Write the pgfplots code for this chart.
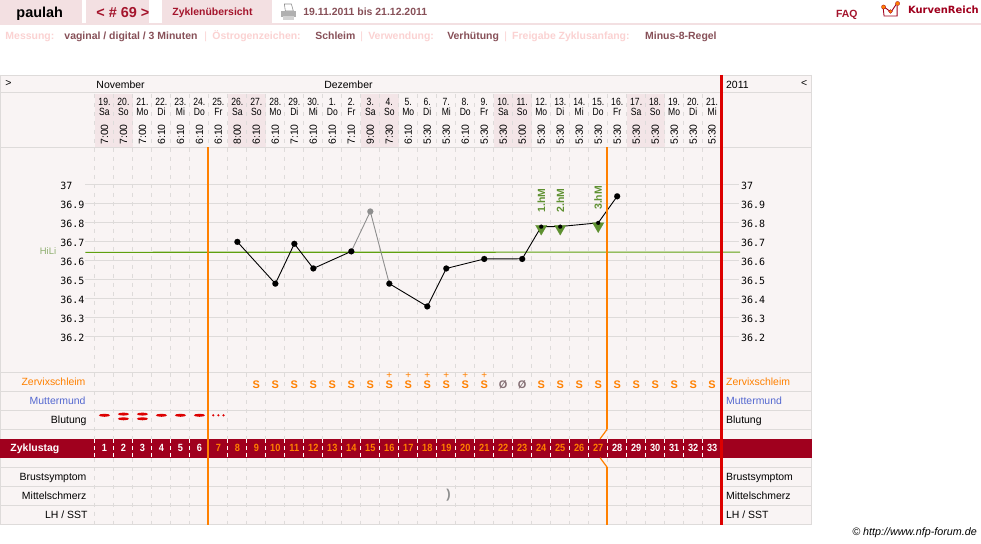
\documentclass[border=0pt]{standalone}
\usepackage{pgfplots}
\usepackage{pgfplotstable}
\usepackage{fontspec}
\setmainfont{Liberation Sans}
\newfontfamily\logofont{DejaVu Sans}
\newfontfamily\tickfont{DejaVu Sans Mono}
\pgfplotsset{compat=1.18}
\definecolor{bgc}{HTML}{F9F4F4}
\definecolor{wkd}{HTML}{F3E5E7}
\definecolor{tabc}{HTML}{F3E0E2}
\definecolor{rulec}{HTML}{DEDBDA}
\definecolor{band}{HTML}{A0001E}
\definecolor{redl}{HTML}{DD0000}
\definecolor{orange2}{HTML}{FF8000}
\definecolor{pinktxt}{HTML}{FBD2D2}
\definecolor{valtxt}{HTML}{875058}
\definecolor{tabred}{HTML}{A4142C}
\definecolor{bluetxt}{HTML}{5468D0}
\definecolor{greenm}{HTML}{5E9030}
\definecolor{hiliC}{HTML}{5FA010}
\definecolor{hilit}{HTML}{8FAF70}
\definecolor{greyc}{HTML}{8E8E8E}
\definecolor{slashc}{HTML}{857075}
\pgfdeclareplotmark{bleed}{\pgfpathellipse{\pgfpointorigin}{\pgfqpoint{5.6bp}{0bp}}{\pgfqpoint{0bp}{1.5bp}}\pgfusepathqfill}
\pgfplotstableread{
day date wd time
1 19. Sa 7:00
2 20. So 7:00
3 21. Mo 7:00
4 22. Di 6:10
5 23. Mi 6:10
6 24. Do 6:10
7 25. Fr 6:10
8 26. Sa 8:00
9 27. So 6:10
10 28. Mo 6:10
11 29. Di 7:10
12 30. Mi 6:10
13 1. Do 6:10
14 2. Fr 7:10
15 3. Sa 9:00
16 4. So 7:30
17 5. Mo 6:10
18 6. Di 5:30
19 7. Mi 5:30
20 8. Do 6:10
21 9. Fr 5:30
22 10. Sa 5:30
23 11. So 5:00
24 12. Mo 5:30
25 13. Di 5:30
26 14. Mi 5:30
27 15. Do 5:30
28 16. Fr 5:30
29 17. Sa 5:30
30 18. So 5:30
31 19. Mo 5:30
32 20. Di 5:30
33 21. Mi 5:30
}\hdr
\pgfplotsset{
  canvas/.style={scale only axis,width=981bp,height=544bp,axis lines=none,clip=false,
    at={(0bp,0bp)},anchor=south west},
  lbl/.style={only marks,mark=none,point meta=explicit symbolic,nodes near coords,
    nodes near coords align={center}},
}
\tikzset{t/.style={inner sep=0pt,outer sep=0pt,anchor=base west,font=\fontsize{10.5}{12}\selectfont},
  r/.style={inner sep=0pt,outer sep=0pt,anchor=base east,font=\fontsize{10.5}{12}\selectfont},
  b/.style={font=\fontsize{10.5}{12}\selectfont\bfseries}}
\begin{document}
\begin{tikzpicture}
% pixel canvas: frame, rules, header texts
\begin{axis}[canvas,xmin=0,xmax=981,ymin=0,ymax=544,y dir=reverse]
\fill[white] (axis cs:0,0) rectangle (axis cs:981,544);
\fill[tabc] (axis cs:0,0) rectangle (axis cs:82,23);
\fill[tabc] (axis cs:86,0) rectangle (axis cs:149,23);
\fill[tabc] (axis cs:162,0) rectangle (axis cs:272,23);
\fill[tabc] (axis cs:0,23.2) rectangle (axis cs:981,25);
\node[t,font=\fontsize{14.5}{16}\selectfont\bfseries] at (axis cs:16,18) {paulah};
\node[t,font=\fontsize{14.5}{16}\selectfont\bfseries,text=tabred] at (axis cs:96,18) {<~\#~69~>};
\node[t,b,text=tabred] at (axis cs:172,16) {Zyklenübersicht};
\node[t,b,text=valtxt] at (axis cs:303,16) {19.11.2011 bis 21.12.2011};
\node[t,b,text=tabred] at (axis cs:836,18) {FAQ};
\node[t,text=band,font=\logofont\fontsize{10}{11}\selectfont\bfseries] at (axis cs:908,14) {KurvenReich};
% printer icon
\fill[white,draw=greyc,line width=.6bp] (axis cs:284,4) -- (axis cs:291,4) -- (axis cs:293,11) -- (axis cs:285,11) -- cycle;
\fill[greyc!70] (axis cs:281,11) rectangle (axis cs:296,17);
\fill[greyc!40] (axis cs:283,16) rectangle (axis cs:294,20);
% logo icon
\draw[band,line width=.9bp] (axis cs:883,7) -- (axis cs:884,16) -- (axis cs:897,16) -- (axis cs:897,6);
\draw[band,line width=.9bp] (axis cs:884,7) -- (axis cs:891,12) -- (axis cs:897,3);
\fill[orange2,draw=band,line width=.3bp] (axis cs:883.5,7) circle[radius=2.1bp];
\fill[orange2,draw=band,line width=.3bp] (axis cs:890.5,11.5) circle[radius=1.9bp];
\fill[orange2,draw=band,line width=.3bp] (axis cs:897.5,3.5) circle[radius=2.1bp];
% info line
\node[t,b,text=pinktxt] at (axis cs:5,40) {Messung:};
\node[t,b,text=valtxt] at (axis cs:64,40) {vaginal / digital / 3 Minuten};
\node[t,text=pinktxt] at (axis cs:204,40) {|};
\node[t,b,text=pinktxt] at (axis cs:212,40) {Östrogenzeichen:};
\node[t,b,text=valtxt] at (axis cs:315,40) {Schleim};
\node[t,text=pinktxt] at (axis cs:360,40) {|};
\node[t,b,text=pinktxt] at (axis cs:368,40) {Verwendung:};
\node[t,b,text=valtxt] at (axis cs:447,40) {Verhütung};
\node[t,text=pinktxt] at (axis cs:504,40) {|};
\node[t,b,text=pinktxt] at (axis cs:512,40) {Freigabe Zyklusanfang:};
\node[t,b,text=valtxt] at (axis cs:645,40) {Minus-8-Regel};
% frame
\fill[bgc] (axis cs:0,75) rectangle (axis cs:812,525);
% weekend shading
\pgfplotsinvokeforeach{94.5,227.5,360.5,493.5,626.5}{
  \fill[wkd] (axis cs:#1,94) rectangle (axis cs:#1+38,147);
}
% month row
\node[t] at (axis cs:96,89) {November};
\node[t] at (axis cs:324,89) {Dezember};
\node[t] at (axis cs:726,89) {2011};
\node[t] at (axis cs:5,86.5) {>};
\node[t] at (axis cs:801,86.5) {<};
% rules
\pgfplotsinvokeforeach{75.5,93,147.5,372.5,391.5,410.5,429.5,467.5,486.5,505.5,524.5}{
  \draw[rulec,line width=1bp] (axis cs:0,#1) -- (axis cs:812,#1);
}
\draw[rulec,line width=1bp] (axis cs:0.5,75) -- (axis cs:0.5,525);
\draw[rulec,line width=1bp] (axis cs:811.5,75) -- (axis cs:811.5,525);
% band
\fill[band] (axis cs:0,439) rectangle (axis cs:812,458);
% dashed day rules
\pgfplotsinvokeforeach{94.5,113.5,...,703.5}{
  \draw[rulec,line width=1bp,dash pattern=on 4bp off 5bp] (axis cs:#1,94) -- (axis cs:#1,439);
  \draw[white,line width=1bp,dash pattern=on 4bp off 3bp] (axis cs:#1,439) -- (axis cs:#1,458);
  \draw[rulec,line width=1bp,dash pattern=on 4bp off 5bp] (axis cs:#1,458) -- (axis cs:#1,524);
}
% row labels
\node[r,text=orange2] at (axis cs:85,386) {Zervixschleim};
\node[r,text=bluetxt] at (axis cs:85,405) {Muttermund};
\node[r] at (axis cs:86,424) {Blutung};
\node[t,b,text=white] at (axis cs:10,452) {Zyklustag};
\node[r] at (axis cs:86,481) {Brustsymptom};
\node[r] at (axis cs:86,500) {Mittelschmerz};
\node[r] at (axis cs:87,519) {LH / SST};
\node[t,text=orange2] at (axis cs:726,386) {Zervixschleim};
\node[t,text=bluetxt] at (axis cs:726,405) {Muttermund};
\node[t] at (axis cs:726,424) {Blutung};
\node[t] at (axis cs:726,481) {Brustsymptom};
\node[t] at (axis cs:726,500) {Mittelschmerz};
\node[t] at (axis cs:726,519) {LH / SST};
\node[anchor=base east,inner sep=0pt,font=\itshape\fontsize{10.8}{12}\selectfont] at (axis cs:977,536) {© http://www.nfp-forum.de};
\end{axis}
% temperature: right-hand scale
\begin{axis}[scale only axis,width=627bp,height=225bp,at={(94.5bp,172bp)},anchor=south west,
  xmin=0.5,xmax=33.5,ymin=36.0158,ymax=37.2,xtick=\empty,axis x line=none,axis y line*=right,
  axis line style={draw=none},ytick style={draw=none},
  ytick={36.2,36.3,...,37.01},
  yticklabel style={font=\tickfont\fontsize{10}{12}\selectfont,anchor=west,xshift=16bp,yshift=-1bp},
  /pgf/number format/assume math mode=true,/pgf/number format/fixed,/pgf/number format/precision=1]
\addplot[draw=none] coordinates {(1,36.5)};
\end{axis}
% temperature: curve, gridlines and left-hand scale
\begin{axis}[scale only axis,width=627bp,height=225bp,at={(94.5bp,172bp)},anchor=south west,
  xmin=0.5,xmax=33.5,ymin=36.0158,ymax=37.2,xtick=\empty,axis x line=none,axis y line*=left,
  axis line style={draw=none},ytick style={draw=none},clip=false,
  ytick={36.2,36.3,...,37.01},
  yticklabel style={font=\tickfont\fontsize{10}{12}\selectfont,anchor=west,xshift=-38bp,yshift=-1bp},
  /pgf/number format/assume math mode=true,/pgf/number format/fixed,/pgf/number format/precision=1]
\pgfplotsinvokeforeach{36.2,36.3,36.4,36.5,36.6,36.7,36.8,36.9,37}{
  \addplot[color=rulec,line width=.9bp] coordinates {(0,#1)(34.42,#1)};
}
\addplot[color=hiliC,line width=1.1bp] coordinates {(0,36.645)(34.47,36.646)};
\addplot[black,line width=.9bp] coordinates {(8,36.7)(10,36.48)(11,36.69)(12,36.56)(14,36.65)};
\addplot[greyc,line width=.9bp] coordinates {(14,36.65)(15,36.86)(16,36.48)};
\addplot[black,line width=.9bp] coordinates {(16,36.48)(18,36.36)(19,36.56)(21,36.61)(23,36.611)(24,36.78)(25,36.781)(27,36.8)(28,36.94)};
\addplot[only marks,mark=triangle*,mark size=6.6bp,mark options={rotate=180,draw=greenm,fill=greenm,line width=.2bp}] coordinates {(24,36.77)(25,36.77)(27,36.783)};
\addplot[only marks,mark=*,mark size=3bp,mark options={draw=black,fill=black,line width=.1bp}] coordinates {(8,36.7)(10,36.48)(11,36.69)(12,36.56)(14,36.65)(16,36.48)(18,36.36)(19,36.56)(21,36.61)(23,36.61)(28,36.94)};
\addplot[only marks,mark=*,mark size=2bp,mark options={draw=black,fill=black,line width=.1bp}] coordinates {(24,36.78)(25,36.78)(27,36.8)};
\addplot[only marks,mark=*,mark size=3bp,mark options={draw=greyc,fill=greyc,line width=.1bp}] coordinates {(15,36.86)};
\addplot[only marks,mark=none,point meta=explicit symbolic,nodes near coords,
  every node near coord/.append style={font=\fontsize{10.5}{12}\selectfont\bfseries,text=greenm,rotate=90,anchor=west,inner sep=0pt}]
  table[x=d,y=y,meta=s]{
d y s
24 36.853 1.hM
25 36.853 2.hM
27 36.868 3.hM
};
\node[anchor=east,inner sep=0pt,text=hilit,font=\fontsize{9.5}{10}\selectfont] at (axis cs:-1.53,36.65) {HiLi};
\end{axis}
% day columns: x = cycle day, y = pixel row; vertical markers and row symbols on top
\begin{axis}[canvas,xmin=-4.47368,xmax=47.15789,ymin=0,ymax=544,y dir=reverse,
  every node near coord/.append style={inner sep=0pt,anchor=center}]
\addplot[orange2,line width=2bp] coordinates {(6.47,147.5)(6.47,525)};
\addplot[orange2,line width=2bp] coordinates {(27.47,147.5)(27.47,429.5)};
\addplot[orange2,line width=1.2bp] coordinates {(27.47,429.5)(27.1,439)};
\addplot[orange2,line width=1.2bp] coordinates {(27.1,458)(27.47,467.5)};
\addplot[orange2,line width=2bp] coordinates {(27.47,467.5)(27.47,525)};
\addplot[redl,line width=3bp] coordinates {(33.5,75)(33.5,525)};
\addplot[lbl,every node near coord/.append style={font=\fontsize{10.5}{11}\selectfont,xscale=.82,anchor=base}] table[x=day,y expr=105.5,meta=date]{\hdr};
\addplot[lbl,every node near coord/.append style={font=\fontsize{10.5}{11}\selectfont,xscale=.82,anchor=base}] table[x=day,y expr=115.5,meta=wd]{\hdr};
\addplot[lbl,every node near coord/.append style={font=\fontsize{10.5}{11}\selectfont,rotate=90}] table[x=day,y expr=134.5,meta=time]{\hdr};
% cycle-day numbers
\addplot[lbl,every node near coord/.append style={font=\fontsize{10.5}{12}\selectfont\bfseries,text=white,xscale=.88}] table[x=d,y expr=448.5,meta=d]{
d
1
2
3
4
5
6
28
29
30
31
32
33
};
\addplot[lbl,every node near coord/.append style={font=\fontsize{10.5}{12}\selectfont\bfseries,text=orange2,xscale=.88}] table[x=d,y expr=448.5,meta=d]{
d
7
8
9
10
11
12
13
14
15
16
17
18
19
20
21
22
23
24
25
26
27
};
% Zervixschleim
\addplot[lbl,every node near coord/.append style={font=\fontsize{11}{12}\selectfont\bfseries,text=orange2}] table[x=d,y expr=384.5,meta=s]{
d s
9 S
10 S
11 S
12 S
13 S
14 S
15 S
16 S
17 S
18 S
19 S
20 S
21 S
24 S
25 S
26 S
27 S
28 S
29 S
30 S
31 S
32 S
33 S
};
\addplot[lbl,every node near coord/.append style={font=\fontsize{10}{10}\selectfont,text=orange2}] table[x=d,y expr=376,meta=s]{
d s
16 +
17 +
18 +
19 +
20 +
21 +
};
\addplot[lbl,every node near coord/.append style={font=\fontsize{11}{12}\selectfont\bfseries,text=slashc}] table[x=d,y expr=384.5,meta=s]{
d s
22 Ø
23 Ø
};
% Blutung
\addplot[only marks,mark=bleed,mark options={fill=redl,draw=redl}] coordinates {
(1,415.5)(2,414.3)(2,419)(3,414.3)(3,419)(4,415.5)(5,415.5)(6,415.5)};
\addplot[only marks,mark=*,mark size=1bp,mark options={draw=redl,fill=redl,line width=.1bp}] coordinates {(6.73,415.5)(7,415.5)(7.27,415.5)};
% Mittelschmerz
\addplot[lbl,every node near coord/.append style={font=\fontsize{13}{14}\selectfont\bfseries,text=greyc}] table[x=d,y=y,meta=s]{
d y s
19.12 495.5 )
};
\end{axis}
\end{tikzpicture}
\end{document}
